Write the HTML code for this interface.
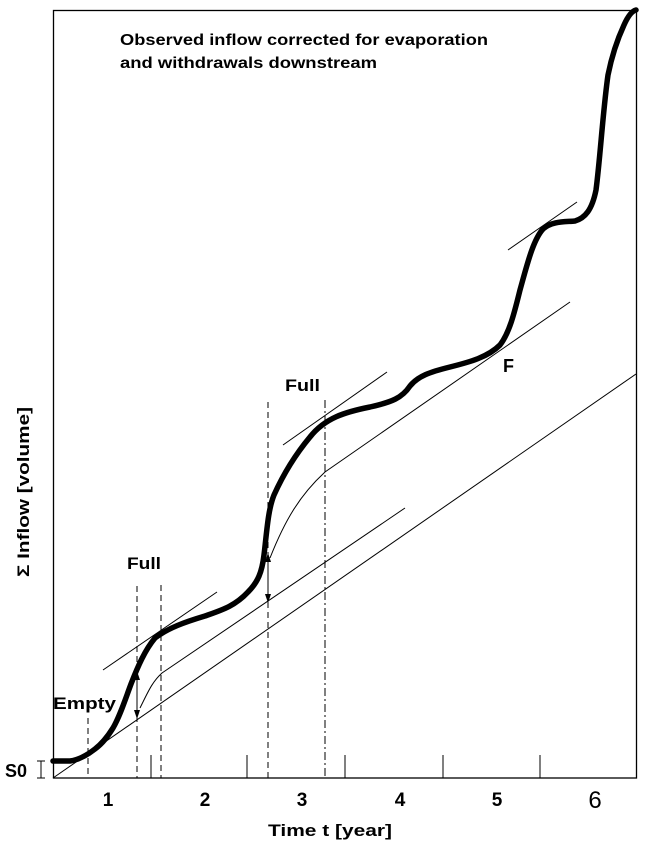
<!DOCTYPE html>
<html><head><meta charset="utf-8"><style>
body{margin:0;background:#fff}
svg{display:block}
text{font-family:"Liberation Sans",sans-serif;fill:#000}
</style></head><body>
<svg width="648" height="854" viewBox="0 0 648 854" xmlns="http://www.w3.org/2000/svg">
<rect x="53.5" y="10.5" width="583" height="767.5" fill="none" stroke="#000" stroke-width="1.3"/>
<g stroke="#000" stroke-width="1" fill="none">
<line x1="53" y1="778" x2="636" y2="374"/>
<path d="M140,708 C148,692 152,682 162,673 L405,508"/>
<path d="M270,558 C285,520 300,495 325,472 L570,302"/>
<line x1="103" y1="670" x2="217" y2="592"/>
<line x1="283" y1="445" x2="387" y2="372"/>
<line x1="508" y1="250" x2="577" y2="202"/>
<g stroke-dasharray="6,4">
<line x1="88" y1="718" x2="88" y2="778"/>
<line x1="137" y1="586" x2="137" y2="778"/>
<line x1="161" y1="585" x2="161" y2="778"/>
<line x1="268" y1="402" x2="268" y2="778"/>
</g>
<line x1="325" y1="400" x2="325" y2="778" stroke-dasharray="8,3,2,3"/>
<g>
<line x1="151" y1="755" x2="151" y2="778"/>
<line x1="247" y1="755" x2="247" y2="778"/>
<line x1="345" y1="755" x2="345" y2="778"/>
<line x1="443" y1="755" x2="443" y2="778"/>
<line x1="540" y1="755" x2="540" y2="778"/>
</g>
<line x1="137" y1="678" x2="137" y2="712"/>
<line x1="268" y1="560" x2="268" y2="595"/>
<path d="M41,761 V778 M37,761 H45 M37,778 H45"/>
</g>
<g fill="#000">
<polygon points="137,671 134,680 140,680"/>
<polygon points="137,719 134,710 140,710"/>
<polygon points="268,553 265,562 271,562"/>
<polygon points="268,603 265,594 271,594"/>
</g>
<path d="M53,761 L70,761 C78,760 86,756 95,749 C103,743 108,736 113,728 C120,716 125,700 131,684 C138,666 145,650 155,638 C168,628 185,622 205,616 C222,610 235,606 248,592 C258,582 262,572 264,555 C267,530 268,510 274,495 C283,475 295,455 310,437 C325,418 345,412 370,407 C392,402 402,398 410,386 C418,376 430,372 450,367 C470,362 488,357 500,345 C510,332 515,310 520,290 C527,265 533,240 543,229 C552,221 565,222 575,221 C585,218 592,210 596,190 C600,160 603,110 608,75 C612,55 618,38 624,25 C628,16 632,11 636,10" fill="none" stroke="#000" stroke-width="5.5" stroke-linejoin="round" stroke-linecap="round"/>
<g font-weight="bold">
<text x="120" y="45" font-size="16" textLength="368" lengthAdjust="spacingAndGlyphs">Observed inflow corrected for evaporation</text>
<text x="120" y="68" font-size="16" textLength="257" lengthAdjust="spacingAndGlyphs">and withdrawals downstream</text>
<text x="127" y="569" font-size="17" textLength="34" lengthAdjust="spacingAndGlyphs">Full</text>
<text x="285" y="391" font-size="17" textLength="35" lengthAdjust="spacingAndGlyphs">Full</text>
<text x="53" y="709" font-size="17" textLength="63" lengthAdjust="spacingAndGlyphs">Empty</text>
<text x="503" y="372" font-size="18">F</text>
<text x="5" y="777" font-size="18">S0</text>
<g font-size="19" text-anchor="middle">
<text x="108" y="806">1</text>
<text x="205" y="806">2</text>
<text x="302" y="806">3</text>
<text x="400" y="806">4</text>
<text x="497" y="806">5</text>
</g>
<text x="330" y="836" font-size="17" text-anchor="middle" textLength="124" lengthAdjust="spacingAndGlyphs">Time t [year]</text>
<text transform="translate(29,492) rotate(-90)" font-size="17" text-anchor="middle" textLength="170" lengthAdjust="spacingAndGlyphs">Σ Inflow [volume]</text>
</g>
<text x="595" y="808" font-size="24" text-anchor="middle">6</text>
</svg>
</body></html>
